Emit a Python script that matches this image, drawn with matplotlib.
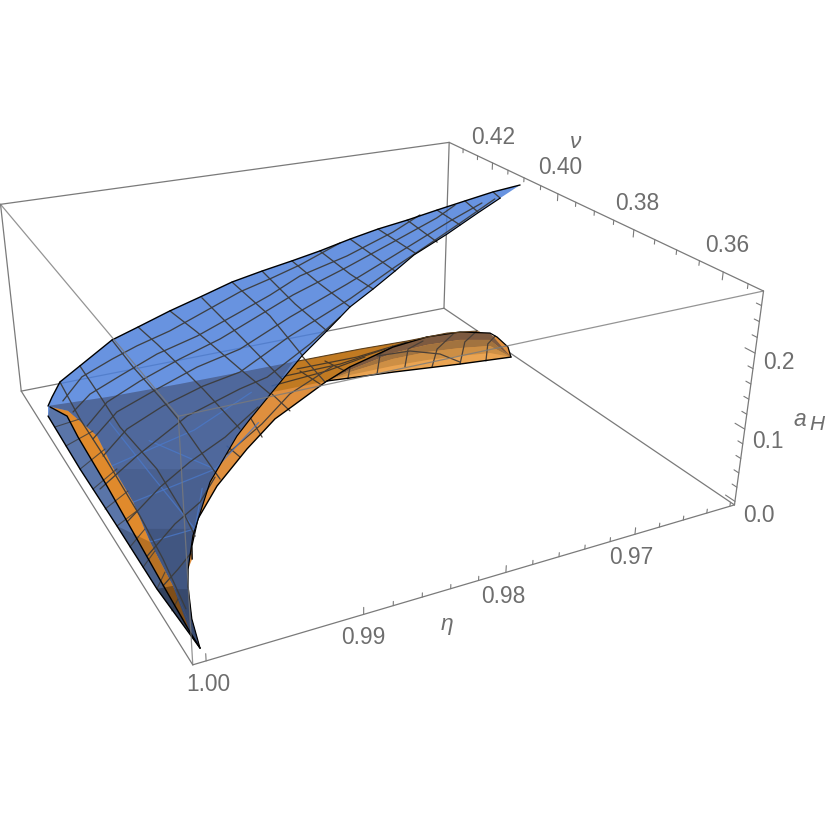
import numpy as np
import matplotlib
matplotlib.use('Agg')
import matplotlib.pyplot as plt
from mpl_toolkits.mplot3d.art3d import Poly3DCollection

# ranges of the box
eta_lim = [1.0008, 0.9616]
nu_lim = [0.352, 0.435]
a_lim = [-0.005, 0.278]

eta_major = [1.00, 0.99, 0.98, 0.97]
nu_major = [0.42, 0.40, 0.38, 0.36]
a_major = [0.0, 0.1, 0.2]

# all points, as eta*1e5, nu*1e4, a*1e4
blue_top = [(99995,4238,103),(99966,4230,260),(99893,4231,460),(99747,4215,707),(99485,4213,1010),(99291,4200,1181),(99046,4190,1371),
            (98813,4181,1529),(98556,4176,1686),(98327,4164,1814),(98101,4151,1934),(97882,4142,2042),(97632,4137,2160),(97402,4131,2261),
            (97172,4120,2359),(96923,4113,2460),(96689,4106,2552),(96452,4099,2643),(96236,4087,2721)]
blue_right = [(96477,4068,2633),(96738,4048,2532),(97087,4020,2394),(97428,3999,2249),(97645,3976,2152),(97882,3953,2042),(98113,3934,1926),
              (98370,3901,1791),(98627,3871,1645),(98943,3826,1443),(99161,3797,1285),(99287,3780,1184),(99569,3730,922),(99800,3668,629),
              (99900,3631,443),(99938,3611,350),(99986,3573,167),(100001,3539,0)]
mesh_a = [
    [(99893,4231,460),(99916,4101,407),(99923,3957,390),(99939,3798,346),(99958,3693,289),(99984,3595,175)],
    [(99747,4215,707),(99757,4098,690),(99771,3989,671),(99747,3838,707),(99770,3721,673),(99792,3664,641)],
    [(99485,4213,1010),(99491,4101,1000),(99483,3981,1008),(99483,3902,1008),(99512,3750,979),(99517,3721,975)],
    [(99291,4200,1181),(99272,4118,1196),(99258,4022,1209),(99248,3930,1217),(99246,3790,1219)],
    [(99046,4190,1371),(99014,4084,1394),(98984,3923,1415),(98961,3825,1430)],
    [(98807,4176,1532),(98820,3995,1523),(98836,3843,1513)],
    [(98556,4176,1686),(98561,4018,1683),(98621,3873,1646)],
    [(98327,4164,1814),(98365,4016,1793),(98370,3901,1791)],
    [(98101,4151,1934),(98113,4039,1928),(98113,3934,1926)],
    [(97882,4142,2042),(97892,4027,2036),(97882,3953,2042)],
    [(97632,4137,2160),(97645,3976,2152)],
    [(97402,4131,2261),(97407,4003,2259)],
    [(97172,4120,2359),(97206,4008,2344)],
    [(96923,4113,2460),(96941,4032,2453)],
    [(96689,4106,2552),(96728,4051,2536)],
    [(96452,4099,2643),(96477,4068,2633)],
]
mesh_b = [
    [(99935,4185,359),(99776,4184,664),(99562,4162,928),(99383,4149,1103),(99146,4132,1297),(98905,4130,1468),(98574,4133,1675),(98320,4127,1818),(98087,4126,1941),(97715,4139,2120)],
    [(99924,4134,384),(99797,4125,633),(99590,4104,897),(99318,4091,1160),(99033,4073,1378),(98690,4073,1607),(98437,4078,1753),(98161,4092,1901),(97777,4087,2091),(97348,4100,2283),(97058,4120,2405)],
    [(99908,4068,428),(99746,4069,707),(99514,4053,979),(99226,4040,1234),(98934,4029,1449),(98690,4033,1607),(98320,4045,1818),(97858,4052,2053),(97431,4067,2249),(96998,4086,2432),(96782,4105,2517)],
    [(99919,4030,399),(99735,4027,722),(99464,4004,1027),(99180,3992,1270),(98886,3973,1481),(98468,3987,1736),(97976,4002,1994),(97542,4023,2200),(96957,4058,2447),(96620,4076,2578)],
    [(99925,3975,384),(99747,3971,705),(99502,3955,989),(99235,3937,1226),(98998,3916,1405),(98575,3937,1673),(98062,3956,1953),(97615,3988,2166),(97308,4009,2301),(96924,4038,2460),(96514,4072,2620)],
    [(99998,3949,61),(99790,3899,645),(99431,3894,1057),(99076,3877,1348),(98895,3867,1473),(98524,3890,1704),(98224,3920,1869)],
    [(99988,3827,152),(99788,3801,645),(99585,3797,903),(99343,3794,1137),(99073,3812,1350)],
    [(99993,3739,118),(99834,3716,572),(99674,3710,802),(99531,3732,960)],
    [(99998,3674,59),(99933,3650,363),(99845,3647,551)],
]
# wall at eta = 0.9998: nu*1e4, a*1e4
wall_outer = [(3714,-199),(3887,-190),(4074,-202),(4260,-145)]
wall_curve = [(4239,80),(4126,377),(4068,298),(3923,209),(3807,106),(3671,-14),(3587,-79)]
wall_ticks_out = [(4217,-147),(4153,-182),(4074,-202),(4005,-197),(3945,-218),(3887,-190),(3828,-201),(3771,-197),(3714,-199),(3655,-178)]
# the rest as eta*1e5, nu*1e4 at a fixed a
strip_inner = [(99905,4184),(99827,4080),(99864,3979),(99886,3865),(99944,3756),(99979,3645)]      # a=0.02
wall_ticks_in = [(99861,4148),(99830,4099),(99834,4034),(99845,3967),(99871,3898),(99899,3840),(99923,3790),(99950,3732),(99972,3679),(99998,3615)]  # a=0.02
far_edge = [(100043,4192),(99600,4181),(99023,4175),(98066,4171),(97466,4168),(97041,4162),(96657,4161),(96407,4145),(96323,4106),(96352,4061),(96439,4023)]  # a=0.03
low_curve = [(96232,4087),(96690,4102),(97264,4125),(97632,4137),(97825,4144),(98258,4083),(98473,4053),(98849,3979),(99243,3893),(99516,3819),(99667,3757),(99720,3726)]  # a=0
cut_1 = [(99858,3968),(99236,3902)]   # a=0.02
cut_2 = [(99912,3789),(99636,3760)]
cut_3 = [(99979,3637),(99904,3629)]
lens_a = [0.03, 0.022, 0.015, 0.008, 0.0]
lens_rows = [
    [(97974,4077),(97697,4110),(97204,4150),(96850,4162),(96547,4155),(96331,4127),(96439,4023)],
    [(97935,4095),(97680,4117),(97214,4146),(96882,4150),(96581,4143),(96354,4119),(96384,4040)],
    [(97900,4111),(97660,4125),(97229,4140),(96909,4139),(96620,4128),(96372,4112),(96336,4055)],
    [(97865,4126),(97649,4130),(97254,4130),(96945,4125),(96658,4114),(96401,4101),(96287,4070)],
    [(97825,4144),(97632,4137),(97264,4125),(96975,4114),(96690,4102),(96423,4093),(96232,4087)],
]
lens_colors = ['#7d5a40', '#a2733f', '#cd8f45', '#eaa452']
lens_mesh = [   # a=0.012
    [(97718,4109),(97601,4150)],
    [(97466,4104),(97262,4175),(97087,4196)],
    [(97199,4108),(97003,4172),(96808,4191)],
    [(97001,4087),(96784,4149),(96502,4194)],
    [(96766,4076),(96498,4154),(96282,4187)],
    [(96543,4067),(96345,4128),(96200,4152)],
    [(97303,4170),(97008,4163),(96813,4128),(96746,4083)],
    [(98680,4052),(98725,3980)],
    [(99007,3977),(98985,3936)],
    [(98373,4113),(98367,4043)],
    [(97862,4229),(97907,4115)],
    [(99052,3953),(98644,4021),(98246,4100),(97717,4167)],
]
upper_mesh = [   # a=0.025
    [(98068,4154),(97533,4152),(97020,4170)],
    [(98251,4137),(97717,4139),(97253,4160)],
    [(98373,4112),(97869,4124),(97474,4146)],
    [(98063,4144),(98022,4083)],
    [(97801,4162),(97740,4110)],
]
under_mesh = [   # a=0.02, seen through the blue sheet
    [(99886,3865),(99236,3902),(98690,4011)],
    [(99864,3979),(99160,4032),(98540,4116)],
    [(99944,3756),(99636,3760),(99410,3858)],
    [(99510,4030),(99236,3902)],
    [(99680,4120),(99660,3932),(99636,3760)],
]


def full(p):
    return [(e/1e5, n/1e4, a/1e4) for e, n, a in p]


def on_eta(p, eta=0.9998):
    return [(eta, n/1e4, a/1e4) for n, a in p]


def on_a(p, a):
    return [(e/1e5, n/1e4, a) for e, n in p]


fig = plt.figure(figsize=(8.29, 8.29), dpi=100)
ax = fig.add_axes([-76.92/829, 55.35/829, 1, 1], projection='3d', computed_zorder=False)
ax.set_box_aspect((1, 1.0033, 0.4001), zoom=0.94)
ax.view_init(elev=24.046, azim=-116.466)
ax.set_proj_type('persp', focal_length=0.2985)
ax.set_xlim(eta_lim)
ax.set_ylim(nu_lim)
ax.set_zlim(a_lim)
ax.set_axis_off()


def poly(p, color, z, alpha=1.0):
    ax.add_collection3d(Poly3DCollection([p], facecolors=[matplotlib.colors.to_rgba(color, alpha)], edgecolors='none', zorder=z))


def line(p, color='#3c3c3c', lw=1.0, z=10, alpha=1.0):
    e, n, a = zip(*p)
    ax.plot(e, n, a, color=color, lw=lw, zorder=z, alpha=alpha, solid_capstyle='round', clip_on=False)


gray = '#7a7a7a'
e0, e1 = eta_lim
n0, n1 = nu_lim
a0, a1 = a_lim
# back edges of the box, then the ones in front of the surfaces
for p, q in [((e0, n1, a0), (e1, n1, a0)), ((e1, n1, a0), (e1, n0, a0)), ((e1, n1, a0), (e1, n1, a1)),
             ((e0, n0, a0), (e1, n0, a0)), ((e0, n0, a0), (e0, n1, a0)), ((e1, n0, a0), (e1, n0, a1)),
             ((e0, n1, a0), (e0, n1, a1)), ((e0, n1, a1), (e1, n1, a1)), ((e1, n1, a1), (e1, n0, a1))]:
    line([p, q], gray, 0.9, 1)
for p, q in [((e0, n0, a0), (e0, n0, a1)), ((e0, n0, a1), (e0, n1, a1)), ((e0, n0, a1), (e1, n0, a1))]:
    line([p, q], gray, 0.9, 30, 0.8)

# ticks
for v in np.arange(96, 101)*0.01:
    for m in range(5 if v < 1 else 1):
        t = v - m*0.002
        if t > e1:
            line([(t, n0, a0), (t, n0, a0 + (0.009 if m == 0 else 0.0055))], gray, 0.8, 1)
for i in range(17):
    t = 0.355 + i*0.005
    if t < n1:
        line([(e1, t, a1), (e1, t, a1 - (0.01 if i % 4 == 1 else 0.006))], gray, 0.8, 1)
for i in range(14):
    t = i*0.02
    if t < a1:
        line([(e1, n0, t), (e1, n0 + (0.002 if i % 5 == 0 else 0.001), t)], gray, 0.8, 1)

far = on_a(far_edge, 0.03)
low = on_a(low_curve, 0.0)
top = full(blue_top)
right = full(blue_right)
tip_p1 = right[-1]
outer = on_eta(wall_outer)
curve = on_eta(wall_curve)
inner = on_a(strip_inner, 0.02)
lens = [on_a(r, h) for r, h in zip(lens_rows, lens_a)]

# orange sheet
poly(far + low[1:] + right[-4:] + curve[::-1], '#df8f3e', 2)
poly(far[3:7] + lens[0][3:0:-1] + [lens[0][0], right[9]], '#c17a22', 3)
for k in range(4):
    poly(lens[k] + lens[k+1][::-1], lens_colors[k], 4)
for m in upper_mesh:
    line(on_a(m, 0.025), '#4a3a28', 0.9, 5)
for m in lens_mesh:
    line(on_a(m, 0.012), '#4a4038', 0.9, 5)
line(lens[0][:4], 'black', 1.0, 6)
line(lens[0][3:6] + far[8:], 'black', 0.9, 6)
line(low, 'black', 1.0, 6)
line(far[3:8], '#5a4020', 0.8, 6)

# blue sheet
poly(top + right + outer, '#4d80db', 7, 0.85)
# the part with the orange sheet behind it is darker
poly(far[:4] + right[9:] + inner[::-1], 'black', 8, 0.20)
poly(on_a(cut_1, 0.02)[:1] + inner[3:] + [tip_p1] + right[-2:-6:-1] + on_a(cut_1, 0.02)[1:], 'black', 8, 0.07)
poly(on_a(cut_2, 0.02)[:1] + inner[4:] + [tip_p1] + right[-2:-5:-1] + on_a(cut_2, 0.02)[1:], 'black', 8, 0.10)
poly(on_a(cut_3, 0.02)[:1] + [tip_p1] + right[-2:-3:-1] + on_a(cut_3, 0.02)[1:], 'black', 8, 0.15)
for m in under_mesh:
    line(on_a(m, 0.02), '#4a78c8', 0.9, 9, 0.8)

# wall and orange strip at the low eta=1 side
poly(curve + [tip_p1] + outer, '#5a75a8', 10)
poly(curve + inner[::-1], '#e08a2c', 10)
poly(inner[4:] + [tip_p1] + outer[:2], 'black', 11, 0.18)
poly(inner[5:] + [tip_p1] + outer[:1], 'black', 11, 0.30)
for p, q in zip(wall_ticks_out, wall_ticks_in):
    line(on_eta([p]) + on_a([q], 0.02), '#3c3c3c', 0.8, 12, 0.8)

# mesh
for m in mesh_a + mesh_b:
    line(full(m), '#3c3c3c', 0.95, 13, 0.95)
line(top, 'black', 1.0, 14)
line(right, 'black', 0.85, 14)
line([tip_p1] + outer, 'black', 1.0, 14)
line(curve + [tip_p1], 'black', 1.0, 14)

plt.rcParams['font.family'] = ['Liberation Sans']
tc = '#6e6e6e'
fs = 16.4


def label(x, y, s, **kw):
    fig.text(x/829, 1 - y/829, s, color=tc, ha='center', va='center', **{'fontsize': fs, **kw})


for v, x, y in zip(eta_major, [208, 363, 503, 631], [685, 638, 597, 558]):
    label(x, y, f'{v:.2f}')
for v, x, y in zip(nu_major, [493, 560, 637, 727], [137, 168, 204, 246]):
    label(x, y, f'{v:.2f}')
for v, x, y in zip(a_major, [759, 768, 779], [516, 442, 363]):
    label(x, y, f'{v:.1f}')
label(447, 624, 'η', style='italic')
label(576, 142, 'ν', style='italic')
label(800, 420, 'a', style='italic')
label(817, 425, 'H', style='italic', fontsize=15)

fig.savefig('out.png', dpi=100)
